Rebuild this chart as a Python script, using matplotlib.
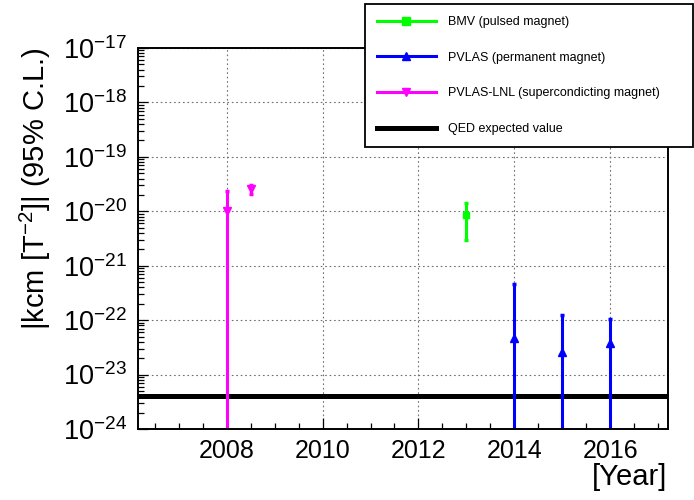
import matplotlib
matplotlib.use("Agg")
import matplotlib.pyplot as plt
from matplotlib.lines import Line2D
from matplotlib.ticker import MultipleLocator, LogLocator, NullFormatter, FormatStrFormatter

plt.rcParams['font.family'] = ['Liberation Sans', 'DejaVu Sans']
plt.rcParams['mathtext.fontset'] = 'custom'
plt.rcParams['mathtext.rm'] = 'Liberation Sans'
plt.rcParams['mathtext.it'] = 'Liberation Sans:italic'
plt.rcParams['mathtext.bf'] = 'Liberation Sans:bold'

# Measurements of the vacuum magnetic birefringence coefficient |k_CM|
bmv_year = [2013.0]
bmv_val = [8.5e-21]
bmv_err = [5.5e-21]

pvlas_year = [2014.0, 2015.0, 2016.0]
pvlas_val = [4.7e-23, 2.6e-23, 3.8e-23]
pvlas_err = [4.1e-22, 1.0e-22, 6.6e-23]

lnl_year = [2008.0, 2008.5]
lnl_val = [1.0e-20, 2.6e-20]
lnl_err = [1.35e-20, 0.5e-20]

qed_value = 4.0e-24

legend_labels = ["BMV (pulsed magnet)",
                 "PVLAS (permanent magnet)",
                 "PVLAS-LNL (supercondicting magnet)",
                 "QED expected value"]

GREEN = "#00ff00"
BLUE = "#0000ff"
MAGENTA = "#ff00ff"

fig = plt.figure(figsize=(6.94, 5.0), dpi=100)
ax = fig.add_axes([138.3 / 694, 1 - 429 / 500, (667.7 - 138.3) / 694, (429 - 48) / 500])

ax.set_yscale('log')
ax.set_xlim(2006.155, 2017.2)
ax.set_ylim(1e-24, 1e-17)

# grid
ax.grid(True, which='major', color='#707070', linestyle=(0, (1.5, 2.5)), linewidth=0.8, zorder=0)
ax.set_axisbelow(True)

# QED expectation
ax.axhline(qed_value, color='black', linewidth=3.6, zorder=2)

eb_kw = dict(fmt='none', elinewidth=2.2, capsize=1.5, capthick=2.5, zorder=3)
ax.errorbar(lnl_year, lnl_val, yerr=lnl_err, ecolor=MAGENTA, **eb_kw)
ax.errorbar(bmv_year, bmv_val, yerr=bmv_err, ecolor=GREEN, **eb_kw)
ax.errorbar(pvlas_year, pvlas_val, yerr=pvlas_err, ecolor=BLUE, **eb_kw)

ax.plot(lnl_year, lnl_val, linestyle='none', marker='v', color=MAGENTA, markersize=5.5, zorder=4)
ax.plot(bmv_year, bmv_val, linestyle='none', marker='s', color=GREEN, markersize=5, zorder=4)
ax.plot(pvlas_year, pvlas_val, linestyle='none', marker='^', color=BLUE, markersize=5.5, zorder=4)

# axes styling
for s in ax.spines.values():
    s.set_linewidth(1.4)
    s.set_zorder(5)

ax.xaxis.set_major_locator(MultipleLocator(2))
ax.xaxis.set_minor_locator(MultipleLocator(0.5))
ax.xaxis.set_major_formatter(FormatStrFormatter('%d'))
ax.yaxis.set_major_locator(LogLocator(base=10, numticks=20))
ax.yaxis.set_minor_locator(LogLocator(base=10, subs=range(2, 10), numticks=20))
ax.yaxis.set_minor_formatter(NullFormatter())

ax.tick_params(which='both', direction='in', top=False, right=False, width=0.9, colors='black')
ax.tick_params(axis='x', which='major', length=8, pad=7, labelsize=18)
ax.tick_params(axis='x', which='minor', length=4)
ax.tick_params(axis='y', which='major', length=7, pad=8, labelsize=19.5)
ax.tick_params(axis='y', which='minor', length=4.5)

ax.set_ylabel(r"|kcm [T$^{\mathdefault{-2}}$]| (95% C.L.)", fontsize=21, loc='top')
ax.yaxis.set_label_coords(-0.162, 1.0)
ax.set_xlabel("[Year]", fontsize=21, loc='right')
ax.xaxis.set_label_coords(1.0, -0.089)

handles = [
    Line2D([], [], color=GREEN, lw=2.2, marker='s', markersize=5.5),
    Line2D([], [], color=BLUE, lw=2.2, marker='^', markersize=6),
    Line2D([], [], color=MAGENTA, lw=2.2, marker='v', markersize=6),
    Line2D([], [], color='black', lw=3.6),
]
leg = fig.legend(handles, legend_labels, loc='upper left',
                 bbox_to_anchor=(365 / 694, 1 - 4.3 / 500, (693 - 365) / 694, 0),
                 mode='expand', borderaxespad=0, fontsize=9, handlelength=4.7,
                 handletextpad=0.96, labelspacing=1.89, borderpad=0.94,
                 fancybox=False, framealpha=1, edgecolor='black')
leg.get_frame().set_linewidth(1.3)

fig.savefig("out.png", dpi=100)
